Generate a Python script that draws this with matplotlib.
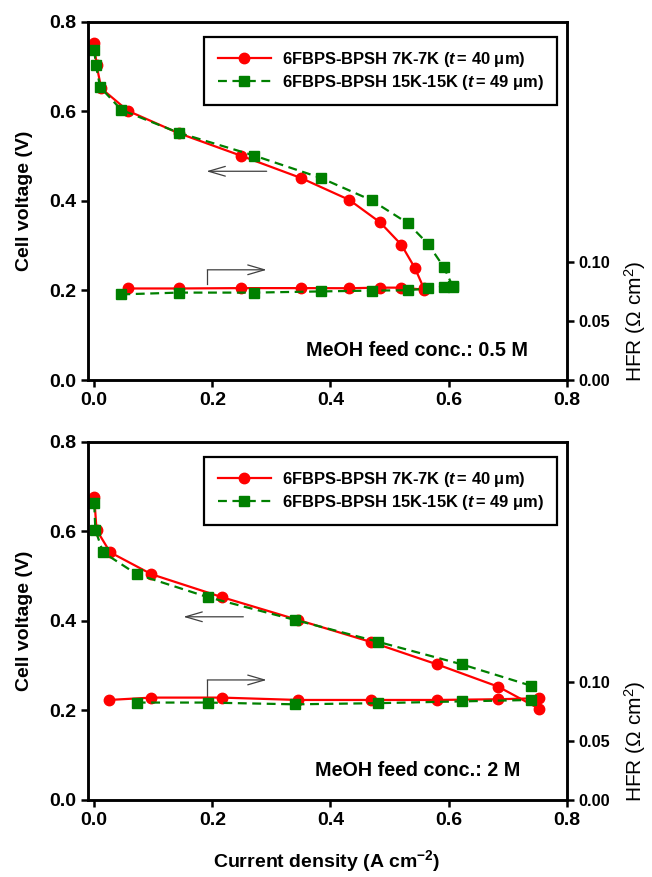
import matplotlib
matplotlib.use("Agg")
import matplotlib.pyplot as plt
from matplotlib.ticker import FormatStrFormatter

plt.rcParams['font.family'] = ['Liberation Sans', 'DejaVu Sans']
plt.rcParams['mathtext.fontset'] = 'custom'
plt.rcParams['mathtext.rm'] = 'Liberation Sans'
plt.rcParams['mathtext.bf'] = 'Liberation Sans:bold'
plt.rcParams['mathtext.it'] = 'Liberation Sans:italic:bold'
plt.rcParams['mathtext.default'] = 'regular'

# ---- data: 0.5 M MeOH ----
j_7k_v_05 = [0.0, 0.004, 0.012, 0.057, 0.143, 0.248, 0.350, 0.432, 0.484, 0.520, 0.543, 0.558]
v_7k_05 = [0.752, 0.703, 0.651, 0.601, 0.551, 0.501, 0.451, 0.402, 0.352, 0.302, 0.250, 0.205]
j_15k_v_05 = [0.0, 0.003, 0.010, 0.046, 0.143, 0.271, 0.384, 0.470, 0.531, 0.565, 0.592, 0.607]
v_15k_05 = [0.737, 0.703, 0.654, 0.603, 0.552, 0.501, 0.451, 0.401, 0.350, 0.304, 0.252, 0.209]
j_7k_h_05 = [0.057, 0.143, 0.248, 0.350, 0.432, 0.484, 0.520, 0.558]
hfr_7k_05 = [0.0775, 0.0775, 0.0778, 0.0778, 0.0777, 0.0782, 0.0782, 0.0765]
j_15k_h_05 = [0.046, 0.143, 0.271, 0.384, 0.470, 0.531, 0.565, 0.592, 0.607]
hfr_15k_05 = [0.0725, 0.0740, 0.0740, 0.0750, 0.0757, 0.0760, 0.0775, 0.0790, 0.0790]

# ---- data: 2 M MeOH ----
j_7k_v_2 = [0.0, 0.004, 0.027, 0.097, 0.216, 0.345, 0.468, 0.580, 0.684, 0.753]
v_7k_2 = [0.677, 0.603, 0.553, 0.504, 0.453, 0.402, 0.353, 0.303, 0.253, 0.204]
j_15k_v_2 = [0.0, 0.002, 0.015, 0.072, 0.192, 0.340, 0.481, 0.622, 0.740]
v_15k_2 = [0.662, 0.603, 0.553, 0.504, 0.453, 0.402, 0.353, 0.303, 0.255]
j_7k_h_2 = [0.025, 0.097, 0.216, 0.345, 0.468, 0.580, 0.684, 0.753]
hfr_7k_2 = [0.0847, 0.0867, 0.0867, 0.0847, 0.0847, 0.0847, 0.0853, 0.0862]
j_15k_h_2 = [0.072, 0.192, 0.340, 0.481, 0.622, 0.740]
hfr_15k_2 = [0.0825, 0.0825, 0.0810, 0.0820, 0.0835, 0.0847]

label_7k = r'6FBPS-BPSH 7K-7K ($\mathit{t}\,$= 40 μm)'
label_15k = r'6FBPS-BPSH 15K-15K ($\mathit{t}\,$= 49 μm)'

RED = '#ff0000'
GREEN = '#008000'
ARROW = '#404040'


def draw_panel(ax, jv7, v7, jv15, v15, jh7, h7, jh15, h15, conc, conc_x,
               left_arrow, right_arrow):
    ax.plot(jv7, v7, color=RED, marker='o', ms=7.5, lw=1.6, label=label_7k)
    ax.plot(jv15, v15, color=GREEN, marker='s', ms=7, lw=1.6, ls='--',
            dashes=(4, 2.5), label=label_15k)
    ax.set_xlim(-0.011, 0.8)
    ax.set_ylim(0, 0.8)
    ax.set_xticks([0, 0.2, 0.4, 0.6, 0.8])
    ax.set_yticks([0, 0.2, 0.4, 0.6, 0.8])
    ax.xaxis.set_major_formatter(FormatStrFormatter('%.1f'))
    ax.yaxis.set_major_formatter(FormatStrFormatter('%.1f'))
    ax.tick_params(direction='out', length=5, width=1.8, labelsize=14,
                   top=False, right=False)
    for lab in ax.get_xticklabels() + ax.get_yticklabels():
        lab.set_fontweight('bold')
    ax.set_ylabel('Cell voltage (V)', fontsize=14, fontweight='bold', labelpad=11)

    leg = ax.legend(loc='upper right', bbox_to_anchor=(0.98, 0.958),
                    prop={'weight': 'bold', 'size': 11.9}, borderaxespad=0,
                    handlelength=3.2, handletextpad=0.7, labelspacing=0.25,
                    borderpad=0.8, fancybox=False, framealpha=1)
    leg.get_frame().set_edgecolor('black')
    leg.get_frame().set_linewidth(1.6)

    # arrows pointing to the respective axes
    lx0, lx1, ly = left_arrow
    ax.annotate('', xy=(lx1, ly), xytext=(lx0, ly),
                arrowprops=dict(arrowstyle='->,head_length=1.2,head_width=0.35',
                                color=ARROW, lw=0.9, mutation_scale=10,
                                shrinkA=0, shrinkB=0))
    rx0, rx1, ry0, ry1 = right_arrow
    ax.plot([rx0, rx0], [ry0, ry1], color=ARROW, lw=0.9)
    ax.annotate('', xy=(rx1, ry1), xytext=(rx0, ry1),
                arrowprops=dict(arrowstyle='->,head_length=1.2,head_width=0.35',
                                color=ARROW, lw=0.9, mutation_scale=10,
                                shrinkA=0, shrinkB=0))

    ax.text(conc_x, 0.067, conc, transform=ax.transAxes, ha='right',
            va='baseline', fontsize=14.2, fontweight='bold')

    ax2 = ax.twinx()
    ax2.plot(jh7, h7, color=RED, marker='o', ms=7.5, lw=1.6)
    ax2.plot(jh15, h15, color=GREEN, marker='s', ms=7, lw=1.6, ls='--',
             dashes=(4, 2.5))
    ax2.set_ylim(0, 0.3034)
    ax2.set_yticks([0, 0.05, 0.10])
    ax2.yaxis.set_major_formatter(FormatStrFormatter('%.2f'))
    ax2.tick_params(direction='out', length=5, width=1.8, labelsize=11.7)
    for lab in ax2.get_yticklabels():
        lab.set_fontweight('bold')
    ax2.text(1.142, 0.165, 'HFR (Ω cm$^{2}$)', transform=ax2.transAxes,
             rotation=90, ha='center', va='center', fontsize=15)
    for a in (ax, ax2):
        for sp in a.spines.values():
            sp.set_linewidth(1.8)
    return ax2


fig = plt.figure(figsize=(6.52, 8.77), dpi=100)
ax_top = fig.add_axes([0.1345, 0.5667, 0.7347, 0.4086])
ax_bot = fig.add_axes([0.1345, 0.0878, 0.7347, 0.4086])

draw_panel(ax_top, j_7k_v_05, v_7k_05, j_15k_v_05, v_15k_05,
           j_7k_h_05, hfr_7k_05, j_15k_h_05, hfr_15k_05,
           'MeOH feed conc.: 0.5 M', 0.92,
           (0.292, 0.190, 0.466), (0.1915, 0.292, 0.214, 0.246))
draw_panel(ax_bot, j_7k_v_2, v_7k_2, j_15k_v_2, v_15k_2,
           j_7k_h_2, hfr_7k_2, j_15k_h_2, hfr_15k_2,
           'MeOH feed conc.: 2 M', 0.9026,
           (0.2525, 0.151, 0.409), (0.1915, 0.292, 0.232, 0.268))

ax_bot.set_xlabel('Current density (A cm$^{-2}$)', fontsize=14,
                  fontweight='bold', labelpad=14)

fig.savefig('out.png', dpi=100)
